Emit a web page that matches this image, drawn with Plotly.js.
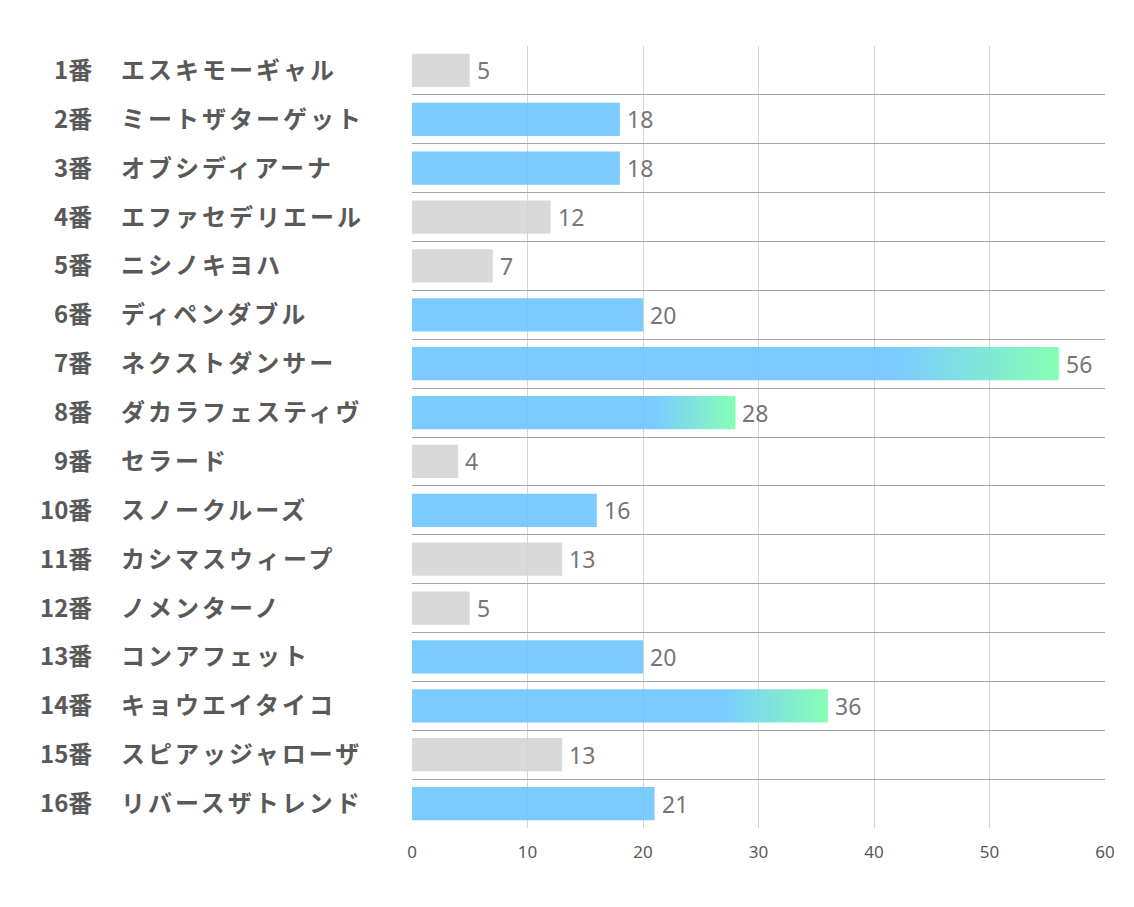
<!DOCTYPE html>
<html>
<head>
<meta charset="utf-8">
<script src="https://cdn.plot.ly/plotly-3.0.1.min.js"></script>
<style>
  html, body { margin: 0; padding: 0; background: #ffffff; }
  #chart { width: 1134px; height: 907px; }
</style>
</head>
<body>
<div id="chart"></div>
<script>
// ---- data ----
const horseNo = ['1番','2番','3番','4番','5番','6番','7番','8番','9番','10番','11番','12番','13番','14番','15番','16番'];
const horseName = ['エスキモーギャル','ミートザターゲット','オブシディアーナ','エファセデリエール','ニシノキヨハ','ディペンダブル','ネクストダンサー','ダカラフェスティヴ','セラード','スノークルーズ','カシマスウィープ','ノメンターノ','コンアフェット','キョウエイタイコ','スピアッジャローザ','リバースザトレンド'];
const votes = [5, 18, 18, 12, 7, 20, 56, 28, 4, 16, 13, 5, 20, 36, 13, 21];
const barGroup = ['lo','hi','hi','lo','lo','hi','grad','grad','lo','hi','lo','lo','hi','grad','lo','hi'];
const xTicks = [0, 10, 20, 30, 40, 50, 60];

// ---- styles ----
const BLUE = 'rgb(109,197,255)';
const GREEN = 'rgb(120,255,172)';
const GREY = 'rgb(213,213,213)';
const BAR_W = 0.68;
const OPA = 0.9;

const idx = votes.map((v, i) => i);
const colorOf = g => g === 'hi' ? BLUE : (g === 'lo' ? GREY : 'rgba(0,0,0,0)');

const traces = [{
  type: 'bar',
  orientation: 'h',
  x: votes,
  y: idx,
  width: BAR_W,
  marker: { color: barGroup.map(colorOf), opacity: OPA, line: { width: 0 } },
  hoverinfo: 'skip'
}];

// gradient bars drawn as filled shapes derived from the data
idx.forEach(i => {
  if (barGroup[i] !== 'grad') return;
  const v = votes[i], h = BAR_W / 2;
  traces.push({
    type: 'scatter',
    mode: 'lines',
    x: [0, v, v, 0, 0],
    y: [i - h, i - h, i + h, i + h, i - h],
    fill: 'toself',
    line: { width: 0, color: 'rgba(0,0,0,0)' },
    fillgradient: {
      type: 'horizontal',
      start: 0,
      stop: v,
      colorscale: [[0, BLUE], [0.75, BLUE], [1, GREEN]]
    },
    opacity: OPA,
    hoverinfo: 'skip'
  });
});

const annotations = [];
const labFont = { family: '"Noto Sans CJK JP", "Noto Sans", sans-serif', size: 24, color: '#595959', weight: 'bold' };
idx.forEach(i => {
  annotations.push({
    xref: 'paper', yref: 'y', x: 0, y: i,
    xanchor: 'right', yanchor: 'middle', xshift: -318, yshift: 2,
    text: horseNo[i], showarrow: false, font: labFont
  });
  annotations.push({
    xref: 'paper', yref: 'y', x: 0, y: i,
    xanchor: 'left', yanchor: 'middle', xshift: -293, yshift: 2,
    text: '<span style="letter-spacing:3px">' + horseName[i] + '</span>',
    showarrow: false, font: labFont
  });
  annotations.push({
    xref: 'x', yref: 'y', x: votes[i], y: i,
    xanchor: 'left', yanchor: 'middle', xshift: 5,
    text: String(votes[i]), showarrow: false,
    font: { family: '"Noto Sans", sans-serif', size: 23, color: '#767676' }
  });
});

const rowLines = [];
for (let k = 0; k <= votes.length; k++) rowLines.push(k - 0.5);

const layout = {
  width: 1134,
  height: 907,
  margin: { l: 412, r: 29, t: 46, b: 79 },
  paper_bgcolor: '#ffffff',
  plot_bgcolor: '#ffffff',
  showlegend: false,
  hovermode: false,
  xaxis: {
    range: [0, 60],
    tickvals: xTicks,
    ticktext: xTicks.map(String),
    showgrid: true,
    gridcolor: '#d4d4d4',
    gridwidth: 1,
    zeroline: false,
    showline: false,
    ticks: '',
    ticklabelstandoff: 12,
    tickfont: { family: '"Noto Sans", sans-serif', size: 17, color: '#595959' },
    fixedrange: true
  },
  yaxis: {
    range: [votes.length - 0.5, -0.5],
    tickvals: rowLines,
    showticklabels: false,
    showgrid: true,
    gridcolor: '#a6a6a6',
    gridwidth: 1,
    zeroline: false,
    showline: false,
    ticks: '',
    fixedrange: true
  },
  annotations: annotations
};

Plotly.newPlot('chart', traces, layout, { displayModeBar: false, staticPlot: true });
</script>
</body>
</html>
